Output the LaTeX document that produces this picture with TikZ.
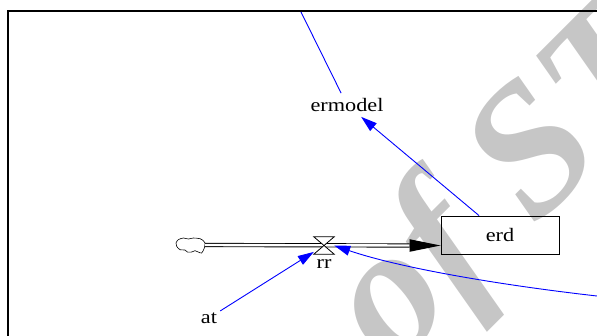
\documentclass[tikz,border=0pt]{standalone}
\usepackage{fontspec}
\setmainfont{Liberation Serif}
\usetikzlibrary{arrows.meta}
\begin{document}
\begin{tikzpicture}[x=1pt,y=-1pt,
  lbl/.style={inner sep=5pt, font=\fontsize{19}{22}\selectfont},
  conn/.style={draw=blue, line width=0.9pt, -{Triangle[length=16pt,width=10pt]}},
  plainconn/.style={draw=blue, line width=0.9pt},
  pipe/.style={double=white, double distance=2.4pt, line width=0.9pt},
  stockbox/.style={draw, line width=0.9pt, minimum width=118pt, minimum height=38pt, inner sep=0pt, font=\fontsize{19}{22}\selectfont},
  wmark/.style={rotate=45, anchor=base west, text=gray!45, inner sep=0pt, font=\fontsize{185}{185}\selectfont\bfseries\itshape}
]
\useasboundingbox (0,0) rectangle (597,335);
% watermark
\begin{scope}
\clip (0,0) rectangle (597,335);
\node[wmark] (wm) at (393.5,369.7) {of ST};
\end{scope}
% frame
\draw[line width=2pt] (8.3,340) -- (8.3,11) -- (600,11);
% nodes
\node[lbl] (ermodel) at (347,105) {\scalebox{1.17}[1]{ermodel}};
\node[stockbox] (erd) at (500,235) {\scalebox{1.17}[1]{erd}};
\node[lbl, inner sep=3pt] (at) at (209,318) {\scalebox{1.17}[1]{at}};
\node[inner sep=0pt, minimum width=20pt, minimum height=17pt] (valve) at (324,245.5) {};
\node[inner sep=0pt, font=\fontsize{19}{22}\selectfont] (rr) at (324,264) {\scalebox{1.17}[1]{rr}};
\coordinate (cloud) at (205,245);
\coordinate (topend) at (301,12);
\coordinate (rightend) at (597,296);
% cloud
\draw[line width=0.6pt] plot[smooth cycle] coordinates {(176,243) (178.3,239.7) (183.3,238) (188.3,239) (193.3,238) (200,238.7) (203.3,240.7) (205,243) (204.3,248) (201.7,253) (198.3,252) (195,250.7) (191.7,252) (187.3,252) (185,250) (180,249.7) (176.7,246.3)};
% flow pipe
\coordinate (tip) at (erd.west |- valve.center);
\draw[pipe] (cloud) -- ([xshift=-31pt]tip);
\fill (tip) -- ++(-31,-6.3) -- ++(0,12.6) -- cycle;
% valve
\draw[line width=0.8pt, fill=white] (valve.north west) -- (valve.north east) -- (valve.south west) -- (valve.south east) -- cycle;
% connectors
\draw[plainconn] (topend) -- (ermodel);
\draw[conn] ([xshift=-21pt]erd.north) -- (ermodel);
\draw[conn] (at) -- (valve);
\draw[conn] (rightend) .. controls (500,285) and (400,268) .. (valve.east);
\end{tikzpicture}
\end{document}
